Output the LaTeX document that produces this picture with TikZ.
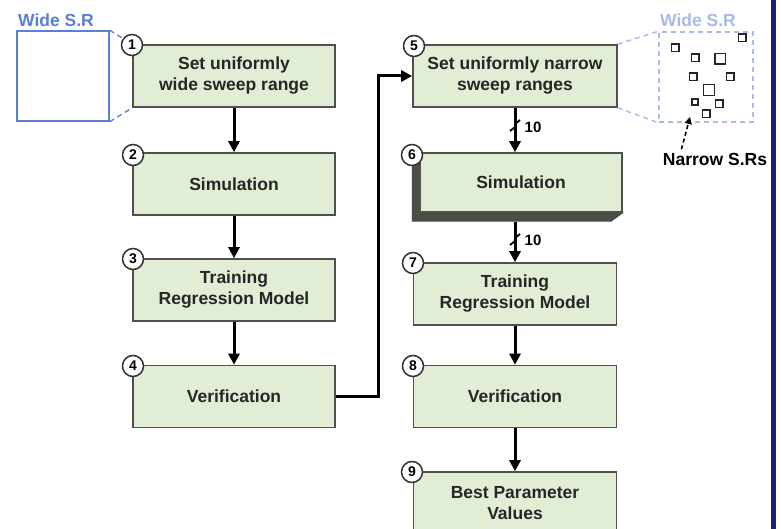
\documentclass[tikz,border=0pt]{standalone}
\usepackage{fontspec}
\setmainfont{Liberation Sans}
\usetikzlibrary{arrows.meta,backgrounds}
\definecolor{boxfill}{HTML}{E2EDD6}
\definecolor{boxdraw}{HTML}{505050}
\definecolor{srblue}{HTML}{5A7FD6}
\definecolor{srlight}{HTML}{A8BAE6}
\definecolor{navyline}{HTML}{17246B}
\definecolor{shadowc}{HTML}{4A4F45}
\begin{document}
\begin{tikzpicture}[x=1pt,y=-1pt,
  box/.style={draw=boxdraw,line width=1.6pt,fill=boxfill,minimum width=202pt,minimum height=62pt,inner sep=0pt,align=center,font=\bfseries\fontsize{17.5}{21}\selectfont,text=black!85},
  num/.style={circle,draw=black!80,line width=1.5pt,fill=white,minimum size=21pt,inner sep=0pt,font=\bfseries\fontsize{14}{14}\selectfont},
  arr/.style={line width=3pt,-{Triangle[length=11pt,width=11pt]}},
  sq/.style={draw=black!85,line width=1.5pt,minimum size=#1,inner sep=0pt},
  lbl/.style={font=\bfseries\fontsize{17.5}{21}\selectfont},
  cnt/.style={font=\bfseries\fontsize{15}{15}\selectfont},
  brk/.style={line width=1.8pt}
]
\path[use as bounding box] (0,0) rectangle (781,529);
\clip (0,0) rectangle (781,529);

% left column
\node[box] (b1) at (234,76) {Set uniformly\\wide sweep range};
\node[box] (b2) at (234,184) {Simulation};
\node[box] (b3) at (234,290) {Training\\Regression Model};
\node[box] (b4) at (234,396.5) {Verification};

% right column
\node[box,minimum width=204pt] (b5) at (515,76) {Set uniformly narrow\\sweep ranges};
\node[box,minimum height=59pt] (b6) at (521,182.5) {Simulation};
\begin{scope}[on background layer]
  \fill[white] (0,0) rectangle (781,529);
  \fill[shadowc,draw=black!70,line width=0.8pt] (b6.north west) -- ++(-7,7) -- ++(0,62) -- ++(199,0) -- (b6.south east) -- cycle;
\end{scope}
\coordinate (b6b) at (515,222);
\node[box,minimum width=203pt] (b7) at (515,294) {Training\\Regression Model};
\node[box,minimum width=203pt] (b8) at (515,396.5) {Verification};
\node[box,minimum width=203pt] (b9) at (515,503) {Best Parameter\\Values};

% arrows
\draw[arr] (b1.south) -- (b2.north);
\draw[arr] (b2.south) -- (b3.north);
\draw[arr] (b3.south) -- (b4.north);
\coordinate (elbowx) at (378,0);
\draw[arr] (b4.east) -- (b4.east -| elbowx) |- (b5.west);
\draw[arr] (b5.south) -- (b5.south |- b6.north);
\draw[arr] (b6b) -- (b7.north);
\draw[arr] (b7.south) -- (b8.north);
\draw[arr] (b8.south) -- (b9.north);

% break marks and counts
\draw[brk] (510,131) -- (515,127) -- (515,124) -- (520,120);
\node[cnt] (n1) at (533,127) {10};
\draw[brk] (510,245) -- (515,241) -- (515,238) -- (520,234);
\node[cnt] (n2) at (533,240) {10};

% wide S.R left
\node[draw=srblue,line width=1.4pt,minimum width=92pt,minimum height=90pt,inner sep=0pt] (w1) at (63,76) {};
\node[lbl,text=srblue] (w1l) at (56,20) {Wide S.R};
\draw[srblue,line width=1.4pt,dash pattern=on 5pt off 4pt] (w1.north east) -- (b1.north west);
\draw[srblue,line width=1.4pt,dash pattern=on 5pt off 4pt] (w1.south east) -- (b1.south west);

% wide S.R right
\node[draw=srlight,line width=1.4pt,dash pattern=on 5pt off 4pt,minimum width=94pt,minimum height=90pt,inner sep=0pt] (w2) at (706,77) {};
\node[lbl,text=srlight] (w2l) at (698,20) {Wide S.R};
\draw[srlight,line width=1.4pt,dash pattern=on 5pt off 4pt] (b5.north east) -- (w2.north west);
\draw[srlight,line width=1.4pt,dash pattern=on 5pt off 4pt] (b5.south east) -- (w2.south west);

\node[sq=7.5pt] (s1) at (675,48) {};
\node[sq=7.5pt] (s2) at (742,38) {};
\node[sq=7.5pt] (s3) at (695,58) {};
\node[sq=10.5pt] (s4) at (720,59) {};
\node[sq=7.5pt] (s5) at (693,77) {};
\node[sq=7.5pt] (s6) at (730,77) {};
\node[sq=11pt] (s7) at (709,90) {};
\node[sq=6pt] (s8) at (695,102) {};
\node[sq=7.5pt] (s9) at (719,104) {};
\node[sq=7.5pt] (s10) at (706,114) {};

\node[lbl] (nl) at (715,159) {Narrow S.Rs};
\draw[line width=1.6pt,dash pattern=on 4pt off 3pt,-{Triangle[length=7pt,width=7pt]}] (nl.north west) ++(22,0) coordinate (nla) (nla) -- (690,117);

% numbers
\node[num] (c1) at (132,45) {1};
\node[num] (c2) at (133,155) {2};
\node[num] (c3) at (133,259) {3};
\node[num] (c4) at (133,366) {4};
\node[num] (c5) at (414,46) {5};
\node[num] (c6) at (412,155) {6};
\node[num] (c7) at (413,263) {7};
\node[num] (c8) at (413,366) {8};
\node[num] (c9) at (412,472) {9};

% right border
\fill[navyline] (771,0) rectangle (776,529);
\end{tikzpicture}
\end{document}
